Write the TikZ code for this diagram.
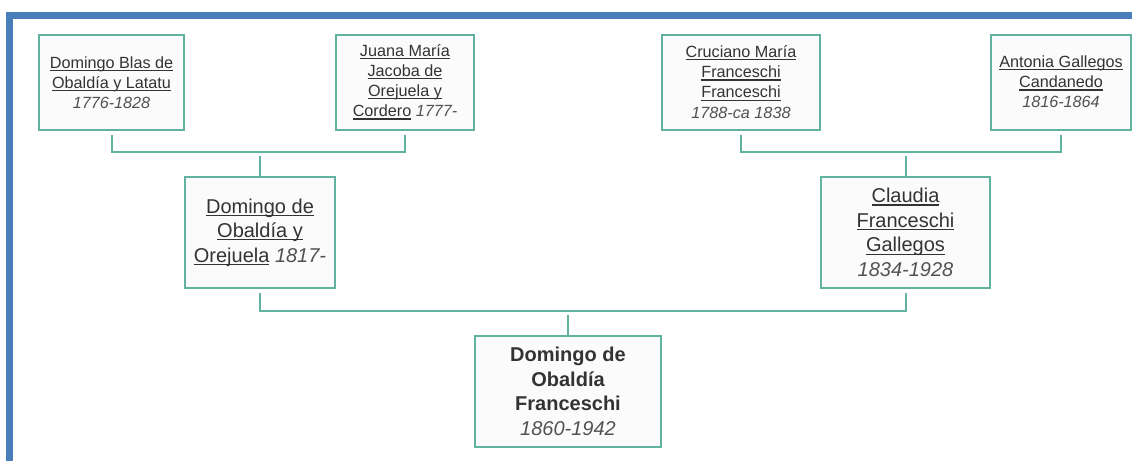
\documentclass[tikz,border=0pt]{standalone}
\usepackage{fontspec}
\setmainfont{Liberation Sans}
\definecolor{frameblue}{RGB}{74,126,187}
\definecolor{boxteal}{RGB}{98,178,160}
\definecolor{boxfill}{RGB}{251,251,251}
\definecolor{inkgray}{RGB}{51,51,51}
\newcommand\undr[1]{\setbox0\hbox{#1}\rlap{\vrule height -1.6pt depth 2.8pt width \wd0}\box0\relax}
\newcommand\yrs[1]{{\normalfont\itshape\color{inkgray!85!white}#1}}
\begin{document}
\begin{tikzpicture}[x=1pt,y=1pt,
    person/.style={draw=boxteal,fill=boxfill,line width=2pt,inner sep=0pt,align=center,text=inkgray},
    elder/.style={person,minimum height=95pt,font=\fontsize{16.2}{20.2}\selectfont},
    parent/.style={person,minimum height=111pt,font=\fontsize{20}{24.6}\selectfont},
    root/.style={parent,font=\fontsize{20}{24.6}\selectfont\bfseries},
    link/.style={draw=boxteal,line width=2pt}]
  \useasboundingbox (0,0) rectangle (1132,-461);
  \fill[frameblue] (6,-12) rectangle (1132,-19);
  \fill[frameblue] (6,-12) rectangle (13,-461);

  \node[elder,minimum width=145pt] (a) at (111.5,-82.5) {\undr{Domingo Blas de}\\\undr{Obaldía y Latatu}\\\yrs{1776-1828}};
  \node[elder,minimum width=138pt] (b) at (405,-82) {\undr{Juana María}\\\undr{Jacoba de}\\\undr{Orejuela y}\\\undr{Cordero} \yrs{1777-}};
  \node[elder,minimum width=158pt] (c) at (741,-82) {\undr{Cruciano María}\\\undr{Franceschi}\\\undr{Franceschi}\\\yrs{1788-ca 1838}};
  \node[elder,minimum width=140pt] (d) at (1061,-82) {\undr{Antonia Gallegos}\\\undr{Candanedo}\\\yrs{1816-1864}};
  \node[parent,minimum width=150pt] (e) at (260,-232.5) {\undr{Domingo de}\\\undr{Obaldía y}\\\undr{Orejuela} \yrs{1817-}};
  \node[parent,minimum width=169pt] (f) at (905.5,-232.5) {\undr{Claudia}\\\undr{Franceschi}\\\undr{Gallegos}\\\yrs{1834-1928}};
  \node[root,minimum width=186pt] (g) at (568,-391.5) {Domingo de\\Obaldía\\Franceschi\\\yrs{1860-1942}};

  \coordinate (ab) at ([yshift=24pt]e.north);
  \coordinate (cd) at ([yshift=24pt]f.north);
  \coordinate (ef) at ([yshift=24pt]g.north);
  \draw[link] ([yshift=-4pt]a.south) |- (ab) -| ([yshift=-4pt]b.south);
  \draw[link] ([yshift=-4pt]ab) -- (e.north);
  \draw[link] ([yshift=-4pt]c.south) |- (cd) -| ([yshift=-4pt]d.south);
  \draw[link] ([yshift=-4pt]cd) -- (f.north);
  \draw[link] ([yshift=-4pt]e.south) |- (ef) -| ([yshift=-4pt]f.south);
  \draw[link] ([yshift=-4pt]ef) -- (g.north);
\end{tikzpicture}
\end{document}
